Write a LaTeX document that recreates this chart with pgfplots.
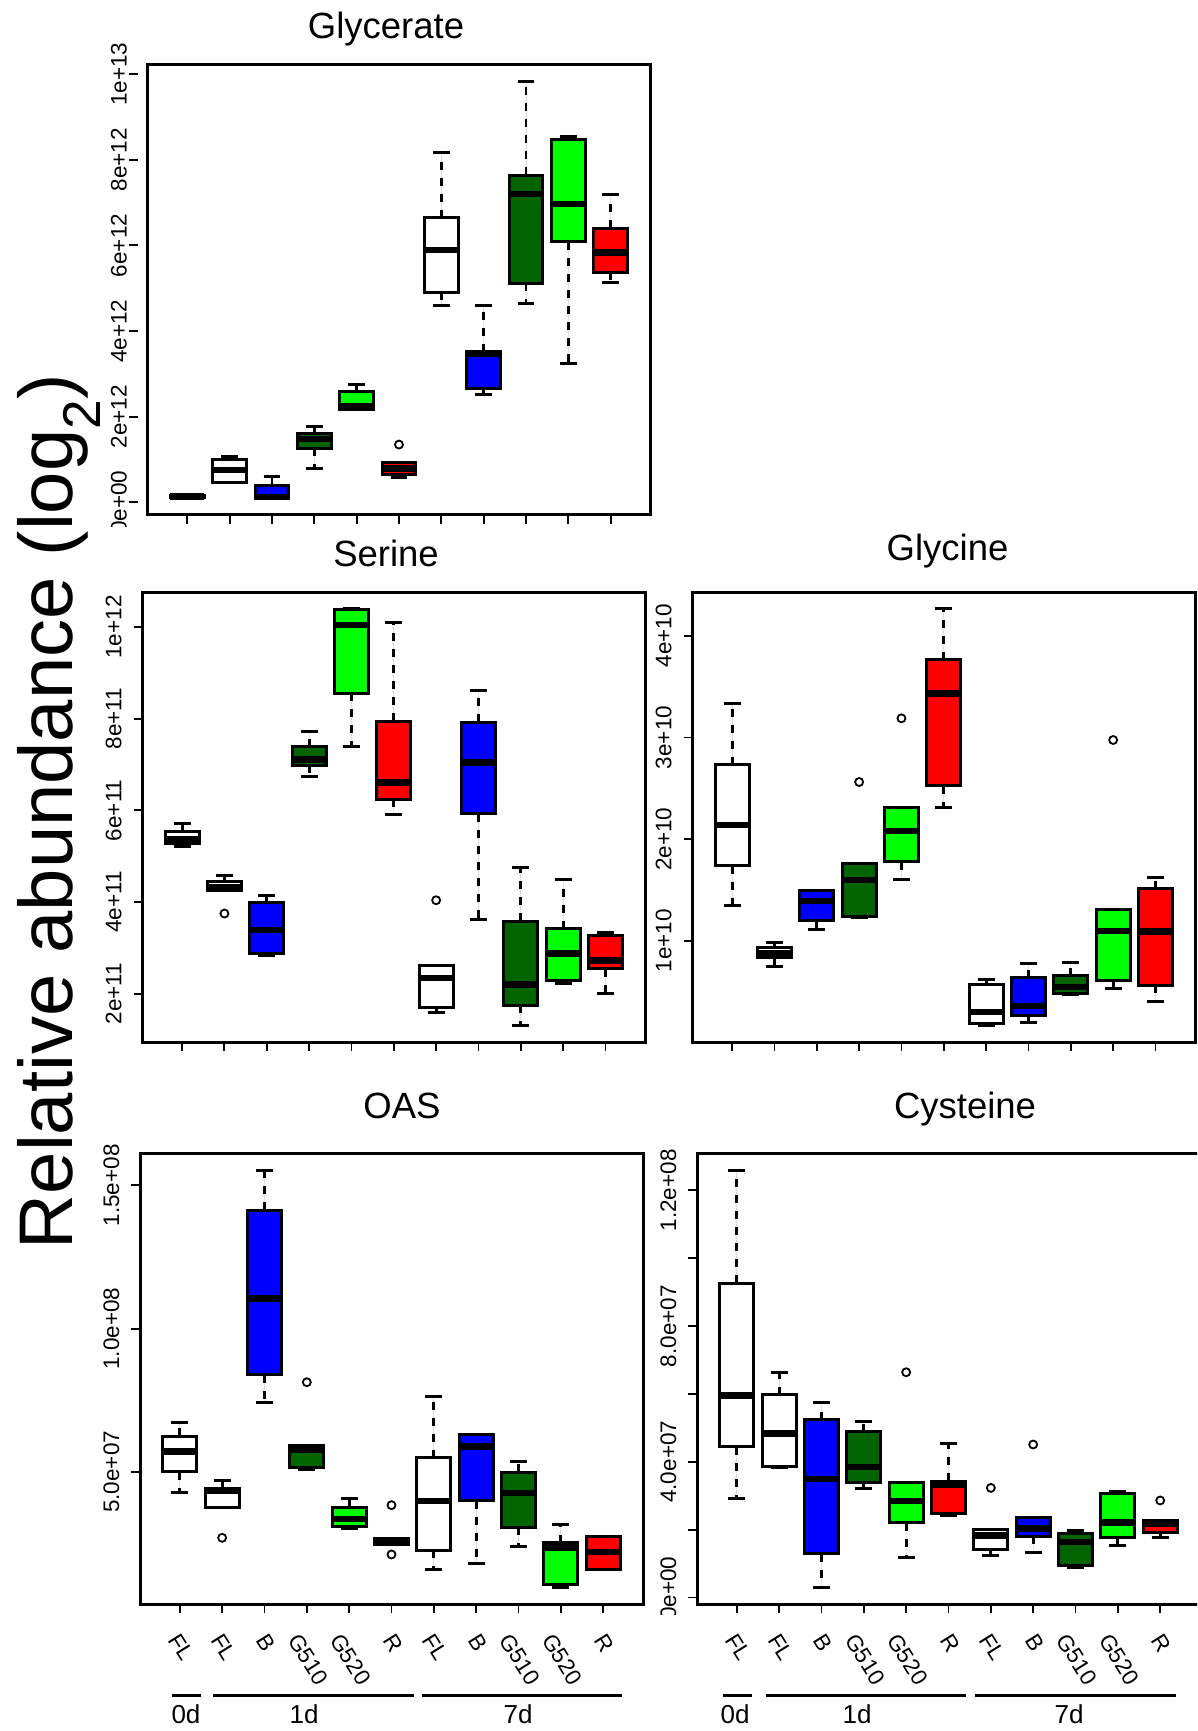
\documentclass[border=0pt]{standalone}
\usepackage{fontspec}
\setmainfont{Liberation Sans}
\usepackage{graphicx}
\usepackage{pgfplots}
\pgfplotsset{compat=1.18}
\usepgfplotslibrary{statistics}

\definecolor{rdg}{RGB}{0,100,0}
\definecolor{rg}{RGB}{0,255,0}
\definecolor{rb}{RGB}{0,0,255}
\definecolor{rr}{RGB}{255,0,0}

\newcommand{\rl}[1]{\rotatebox{90}{#1}}
\newcommand{\rx}[1]{\rotatebox{-58}{#1}}

\pgfplotsset{
  rbox/.style={draw=black, line width=3pt, solid, mark=o, mark size=4pt,
    boxplot/draw direction=y,
    mark options={draw=black, fill=none, line width=1.8pt, solid}},
  boxplot/every box/.style={line width=3pt},
  boxplot/every median/.style={line width=6.5pt},
  boxplot/box extend=0.8,
  boxplot/whisker extend=0.4,
  boxplot/draw/lower whisker/.code={%
    \draw[line width=2.8pt, black, dash pattern=on 8pt off 8pt]
      (boxplot cs:\pgfplotsboxplotvalue{lower quartile}) -- (boxplot cs:\pgfplotsboxplotvalue{lower whisker});
    \draw[line width=3pt, black, solid]
      (boxplot whisker cs:\pgfplotsboxplotvalue{lower whisker},0) -- (boxplot whisker cs:\pgfplotsboxplotvalue{lower whisker},1);
  },
  boxplot/draw/upper whisker/.code={%
    \draw[line width=2.8pt, black, dash pattern=on 8pt off 8pt]
      (boxplot cs:\pgfplotsboxplotvalue{upper quartile}) -- (boxplot cs:\pgfplotsboxplotvalue{upper whisker});
    \draw[line width=3pt, black, solid]
      (boxplot whisker cs:\pgfplotsboxplotvalue{upper whisker},0) -- (boxplot whisker cs:\pgfplotsboxplotvalue{upper whisker},1);
  },
  rpanel/.style={
    scale only axis, width=503pt, height=450.5pt,
    anchor=north west,
    xmin=0.06, xmax=11.94,
    xtick={1,2,3,4,5,6,7,8,9,10,11},
    axis line style={line width=3pt},
    tick align=outside,
    major tick length=8.7pt,
    minor tick length=8.7pt,
    tick style={line width=1.9pt, black},
    xtick pos=bottom, ytick pos=left,
    yticklabel style={anchor=east, inner sep=0pt, xshift=-11.8pt},
    ticklabel style={font=\fontsize{22.5}{24}\selectfont},
  },
  toppanel/.style={rpanel, xticklabels={}},
  botpanel/.style={rpanel,
    xticklabels={\rx{FL},\rx{FL},\rx{B},\rx{G510},\rx{G520},\rx{R},\rx{FL},\rx{B},\rx{G510},\rx{G520},\rx{R}},
    xticklabel style={anchor=north, inner sep=0pt, yshift=-18.6pt, xshift=1.5pt, font=\fontsize{22.5}{24}\selectfont},
  },
}

% #1 pos, #2 lower whisker, #3 lower quartile, #4 median, #5 upper quartile, #6 upper whisker, #7 colour
\newcommand{\bx}[7]{\addplot[rbox, fill=#7, boxplot prepared={draw position=#1, lower whisker=#2, lower quartile=#3, median=#4, upper quartile=#5, upper whisker=#6}] coordinates {};}
% same, #8 outliers separated by \\
\newcommand{\bxo}[8]{\addplot[rbox, fill=#7, boxplot prepared={draw position=#1, lower whisker=#2, lower quartile=#3, median=#4, upper quartile=#5, upper whisker=#6}] table[row sep=\\, y index=0] {v\\ #8\\};}

\begin{document}
\begin{tikzpicture}
\useasboundingbox (0pt,0pt) rectangle (1197pt,-1731pt);

% ---------------- Glycerate (x 1e12) ----------------
\begin{scope}
\clip (0pt,0pt) rectangle (1197pt,-526pt);
\begin{axis}[toppanel, at={(147.5pt,-64.3pt)}, ymin=-0.29, ymax=10.23,
  ytick={0,2,4,6,8,10},
  yticklabels={\rl{0e+00},\rl{2e+12},\rl{4e+12},\rl{6e+12},\rl{8e+12},\rl{1e+13}},
  ytick style={xshift=-10pt}]
\bx{1}{0.09}{0.11}{0.14}{0.17}{0.18}{white}
\bx{2}{0.47}{0.47}{0.76}{1.00}{1.07}{white}
\bx{3}{0.09}{0.09}{0.13}{0.39}{0.61}{rb}
\bx{4}{0.79}{1.26}{1.48}{1.60}{1.77}{rdg}
\bx{5}{2.16}{2.18}{2.24}{2.58}{2.76}{rg}
\bxo{6}{0.57}{0.65}{0.79}{0.94}{0.94}{rr}{1.35}
\bx{7}{4.59}{4.91}{5.89}{6.65}{8.17}{white}
\bx{8}{2.53}{2.66}{3.48}{3.52}{4.60}{rb}
\bx{9}{4.65}{5.12}{7.20}{7.64}{9.84}{rdg}
\bx{10}{3.24}{6.09}{6.97}{8.48}{8.55}{rg}
\bx{11}{5.14}{5.37}{5.84}{6.40}{7.18}{rr}
\end{axis}
\end{scope}

% ---------------- Serine (x 1e11) ----------------
\begin{axis}[toppanel, at={(142.3pt,-592pt)}, ymin=0.936, ymax=10.764,
  ytick={2,4,6,8,10},
  yticklabels={\rl{2e+11},\rl{4e+11},\rl{6e+11},\rl{8e+11},\rl{1e+12}}]
\bx{1}{5.22}{5.28}{5.37}{5.55}{5.71}{white}
\bxo{2}{4.25}{4.25}{4.33}{4.44}{4.57}{white}{3.75}
\bx{3}{2.83}{2.88}{3.39}{3.98}{4.14}{rb}
\bx{4}{6.73}{6.98}{7.11}{7.39}{7.72}{rdg}
\bx{5}{7.40}{8.55}{10.04}{10.39}{10.40}{rg}
\bx{6}{5.90}{6.24}{6.61}{7.94}{10.10}{rr}
\bxo{7}{1.58}{1.69}{2.34}{2.62}{2.62}{white}{4.04}
\bx{8}{3.61}{5.93}{7.04}{7.92}{8.62}{rb}
\bx{9}{1.30}{1.75}{2.20}{3.58}{4.75}{rdg}
\bx{10}{2.23}{2.28}{2.88}{3.42}{4.49}{rg}
\bx{11}{2.00}{2.55}{2.73}{3.27}{3.34}{rr}
\end{axis}

% ---------------- Glycine (x 1e10) ----------------
\begin{axis}[toppanel, at={(692.3pt,-592pt)}, ymin=0.001, ymax=4.43,
  ytick={1,2,3,4},
  yticklabels={\rl{1e+10},\rl{2e+10},\rl{3e+10},\rl{4e+10}}]
\bx{1}{1.35}{1.74}{2.137}{2.733}{3.335}{white}
\bx{2}{0.748}{0.84}{0.879}{0.934}{0.987}{white}
\bx{3}{1.108}{1.197}{1.393}{1.495}{1.495}{rb}
\bxo{4}{1.23}{1.24}{1.60}{1.763}{1.763}{rdg}{2.562}
\bxo{5}{1.60}{1.78}{2.081}{2.313}{2.313}{rg}{3.188}
\bx{6}{2.307}{2.526}{3.434}{3.762}{4.266}{rr}
\bx{7}{0.165}{0.184}{0.299}{0.571}{0.617}{white}
\bx{8}{0.20}{0.27}{0.361}{0.64}{0.774}{rb}
\bx{9}{0.476}{0.48}{0.545}{0.656}{0.787}{rdg}
\bxo{10}{0.535}{0.61}{1.098}{1.311}{1.311}{rg}{2.975}
\bx{11}{0.404}{0.564}{1.092}{1.514}{1.626}{rr}
\end{axis}

% ---------------- OAS (x 1e7) ----------------
\begin{axis}[botpanel, at={(140pt,-1153.8pt)}, ymin=0.38, ymax=16.1,
  ytick={5,10,15},
  yticklabels={\rl{5.0e+07},\rl{1.0e+08},\rl{1.5e+08}}]
\bx{1}{4.29}{5.00}{5.72}{6.24}{6.74}{white}
\bxo{2}{3.77}{3.77}{4.33}{4.41}{4.71}{white}{2.70}
\bx{3}{7.42}{8.39}{11.06}{14.13}{15.52}{rb}
\bxo{4}{5.08}{5.17}{5.78}{5.92}{5.92}{rdg}{8.13}
\bx{5}{3.03}{3.11}{3.36}{3.77}{4.08}{rg}
\bxo{6}{2.48}{2.48}{2.58}{2.67}{2.67}{rr}{3.84\\ 2.12}
\bx{7}{1.60}{2.26}{3.98}{5.49}{7.62}{white}
\bx{8}{1.79}{4.00}{5.89}{6.29}{6.32}{rb}
\bx{9}{2.39}{3.07}{4.27}{4.98}{5.37}{rdg}
\bx{10}{0.96}{1.06}{2.36}{2.53}{3.17}{rg}
\bx{11}{1.58}{1.58}{2.20}{2.76}{2.76}{rr}
\end{axis}

% ---------------- Cysteine (x 1e7) ----------------
\begin{scope}
\clip (640pt,-1130pt) -- (1197pt,-1130pt) -- (1197pt,-1731pt) -- (692pt,-1731pt) -- (692pt,-1614pt) -- (640pt,-1614pt) -- cycle;
\begin{axis}[botpanel, at={(697pt,-1153.8pt)}, ymin=-0.202, ymax=13.08,
  ytick={0,4,8,12}, minor ytick={2,6,10},
  yticklabels={\rl{0.0e+00},\rl{4.0e+07},\rl{8.0e+07},\rl{1.2e+08}}]
\bx{1}{2.91}{4.45}{5.95}{9.27}{12.59}{white}
\bx{2}{3.84}{3.86}{4.84}{5.97}{6.63}{white}
\bx{3}{0.29}{1.29}{3.50}{5.24}{5.74}{rb}
\bx{4}{3.20}{3.40}{3.84}{4.89}{5.19}{rdg}
\bxo{5}{1.19}{2.20}{2.84}{3.38}{3.38}{rg}{6.64}
\bx{6}{2.42}{2.47}{3.33}{3.43}{4.53}{rr}
\bxo{7}{1.25}{1.41}{1.83}{2.01}{2.01}{white}{3.23}
\bxo{8}{1.34}{1.80}{2.03}{2.36}{2.36}{rb}{4.51}
\bx{9}{0.87}{0.95}{1.64}{1.88}{1.96}{rdg}
\bx{10}{1.54}{1.76}{2.21}{3.06}{3.13}{rg}
\bxo{11}{1.76}{1.93}{2.16}{2.26}{2.26}{rr}{2.86}
\end{axis}
\end{scope}

% ---------------- titles ----------------
\begin{scope}[every node/.style={anchor=base, inner sep=0pt, font=\fontsize{36.5}{40}\selectfont}]
\node at (386pt,-38.5pt) {Glycerate};
\node at (386pt,-566.6pt) {Serine};
\node at (947.5pt,-560pt) {Glycine};
\node at (402pt,-1118.4pt) {OAS};
\node at (965pt,-1118.4pt) {Cysteine};
\end{scope}

% ---------------- common y label ----------------
\node[rotate=90, anchor=base, inner sep=0pt, font=\fontsize{76}{80}\selectfont] at (72pt,-811.5pt) {Relative abundance (log\textsubscript{2})};

% ---------------- group bars ----------------
\begin{scope}[line width=3pt]
\draw (172pt,-1695pt) -- (201pt,-1695pt);
\draw (213pt,-1695pt) -- (414pt,-1695pt);
\draw (422pt,-1695pt) -- (622pt,-1695pt);
\draw (723pt,-1695pt) -- (752pt,-1695pt);
\draw (766pt,-1695pt) -- (966pt,-1695pt);
\draw (975pt,-1695pt) -- (1176pt,-1695pt);
\end{scope}
\begin{scope}[every node/.style={anchor=base, inner sep=0pt, font=\fontsize{26}{28}\selectfont}]
\node at (186pt,-1723pt) {0d};
\node at (304pt,-1723pt) {1d};
\node at (518pt,-1723pt) {7d};
\node at (735pt,-1723pt) {0d};
\node at (857pt,-1723pt) {1d};
\node at (1069pt,-1723pt) {7d};
\end{scope}
\end{tikzpicture}
\end{document}
